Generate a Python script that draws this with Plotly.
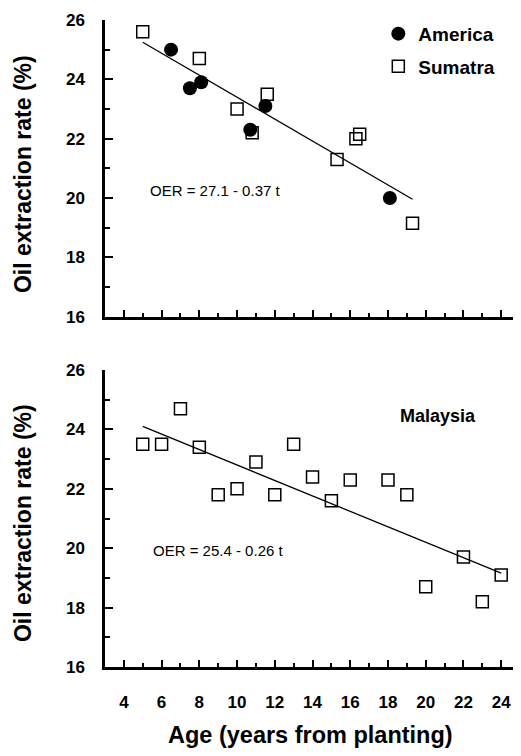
import plotly.graph_objects as go

# ---- data ----
america_age = [6.5, 7.5, 8.1, 10.7, 11.5, 18.1]
america_oer = [25.0, 23.7, 23.9, 22.3, 23.1, 20.0]

sumatra_age = [5.0, 8.0, 10.0, 10.8, 11.6, 15.3, 16.3, 16.5, 19.3]
sumatra_oer = [25.6, 24.7, 23.0, 22.2, 23.5, 21.3, 22.0, 22.15, 19.15]

malaysia_age = [5, 6, 7, 8, 9, 10, 11, 12, 13, 14, 15, 16, 18, 19, 20, 22, 23, 24]
malaysia_oer = [23.5, 23.5, 24.7, 23.4, 21.8, 22.0, 22.9, 21.8, 23.5, 22.4, 21.6, 22.3,
                22.3, 21.8, 18.7, 19.7, 18.2, 19.1]

# regression fits (intercept, slope) and fitted age span
fit_top = (27.1, -0.37)
fit_top_x = [5.0, 19.3]
fit_bot = (25.4, -0.26)
fit_bot_x = [5.0, 24.0]

x_ticks = [4, 6, 8, 10, 12, 14, 16, 18, 20, 22, 24]
y_ticks = [16, 18, 20, 22, 24, 26]

FONT = "Liberation Sans"

fig = go.Figure()

# top panel
fig.add_trace(go.Scatter(
    x=sumatra_age, y=sumatra_oer, mode="markers", name="Sumatra", legendgroup="s",
    marker=dict(symbol="square-open", size=12, color="black", line=dict(width=1.5, color="black")),
    xaxis="x", yaxis="y", legendrank=2))
fig.add_trace(go.Scatter(
    x=america_age, y=america_oer, mode="markers", name="America", legendgroup="a",
    marker=dict(symbol="circle", size=14, color="black"),
    xaxis="x", yaxis="y", legendrank=1))
fig.add_trace(go.Scatter(
    x=fit_top_x, y=[fit_top[0] + fit_top[1] * v for v in fit_top_x], mode="lines",
    line=dict(color="black", width=1.3), showlegend=False, xaxis="x", yaxis="y"))

# bottom panel
fig.add_trace(go.Scatter(
    x=malaysia_age, y=malaysia_oer, mode="markers", name="Malaysia",
    marker=dict(symbol="square-open", size=12, color="black", line=dict(width=1.5, color="black")),
    showlegend=False, xaxis="x2", yaxis="y2"))
fig.add_trace(go.Scatter(
    x=fit_bot_x, y=[fit_bot[0] + fit_bot[1] * v for v in fit_bot_x], mode="lines",
    line=dict(color="black", width=1.3), showlegend=False, xaxis="x2", yaxis="y2"))

xcommon = dict(range=[3, 25.05], tickvals=x_ticks, ticks="inside", ticklen=7, tickwidth=2,
               tickcolor="black", showline=True, linecolor="black", linewidth=2.5,
               showgrid=False, zeroline=False,
               minor=dict(ticks="inside", ticklen=4, tickwidth=2, dtick=1, tick0=3,
                          tickcolor="black", showgrid=False))
ycommon = dict(range=[16, 26], tickvals=y_ticks, ticks="inside", ticklen=8, tickwidth=2,
               tickcolor="black", showline=True, linecolor="black", linewidth=2.5,
               showgrid=False, zeroline=False,
               tickfont=dict(family=FONT, size=17, color="black", weight="bold"),
               ticklabelstandoff=14,
               minor=dict(ticks="inside", ticklen=5, tickwidth=2, dtick=1, tick0=16,
                          tickcolor="black", showgrid=False))

fig.update_layout(
    width=513, height=748,
    margin=dict(l=97, r=0, t=12, b=89),
    paper_bgcolor="white", plot_bgcolor="white",
    font=dict(family=FONT, color="black"),
    xaxis=dict(domain=[0, 1], anchor="y", showticklabels=False, **xcommon),
    yaxis=dict(domain=[0.5414, 1.0], anchor="x", **ycommon),
    xaxis2=dict(domain=[0, 1], anchor="y2", showticklabels=True,
                tickfont=dict(family=FONT, size=17, color="black", weight="bold"),
                ticklabelstandoff=18, **xcommon),
    yaxis2=dict(domain=[0, 0.459], anchor="x2", **ycommon),
    legend=dict(x=0.657, y=1.008, xanchor="left", yanchor="top", traceorder="grouped",
                font=dict(family=FONT, size=19, color="black", weight="bold"),
                bgcolor="rgba(0,0,0,0)", itemwidth=30, tracegroupgap=5),
    showlegend=True,
    annotations=[
        dict(text="Oil extraction rate (%)", xref="paper", yref="paper", x=-0.197, y=0.762,
             textangle=-90, showarrow=False, xanchor="center", yanchor="middle",
             font=dict(family=FONT, size=23, color="black", weight="bold")),
        dict(text="Oil extraction rate (%)", xref="paper", yref="paper", x=-0.197, y=0.2226,
             textangle=-90, showarrow=False, xanchor="center", yanchor="middle",
             font=dict(family=FONT, size=23, color="black", weight="bold")),
        dict(text="Age (years from planting)", xref="paper", yref="paper", x=0.493, y=-0.105,
             showarrow=False, xanchor="center", yanchor="middle",
             font=dict(family=FONT, size=23.5, color="black", weight="bold")),
        dict(text="OER = 27.1 - 0.37 t", xref="x", yref="y", x=5.28, y=20.24,
             showarrow=False, xanchor="left", yanchor="middle",
             font=dict(family=FONT, size=15, color="black")),
        dict(text="OER = 25.4 - 0.26 t", xref="x2", yref="y2", x=5.42, y=19.93,
             showarrow=False, xanchor="left", yanchor="middle",
             font=dict(family=FONT, size=15, color="black")),
        dict(text="Malaysia", xref="x2", yref="y2", x=20.65, y=24.45,
             showarrow=False, xanchor="center", yanchor="middle",
             font=dict(family=FONT, size=18, color="black", weight="bold")),
    ],
)

fig.write_html("out.html")
